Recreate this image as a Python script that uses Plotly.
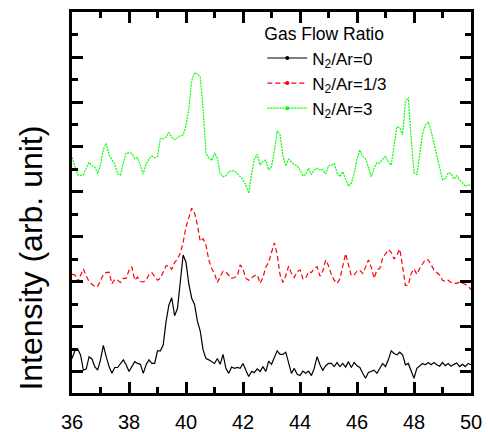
import numpy as np
import plotly.graph_objects as go

# 2-theta scan positions (degrees), 0.1 deg step
two_theta = np.round(np.linspace(36.0, 50.0, 141), 2)

# Stacked XRD intensities (arb. unit), one offset trace per gas flow ratio
ratio_0 = [
    30, 47, 51, 38, 4, 7, 34, 29, 12, 4, 27, 59, 34, 12, -3, 10, 10, 19, 27, 16,
    1, 12, 23, 19, 17, -3, 16, 27, 19, 19, 47, 47, 60, 112, 149, 165, 125, 141, 201, 260,
    244, 195, 164, 150, 113, 91, 49, 30, 27, 23, 19, 30, 17, 39, 8, -3, 11, 8, 10, 8,
    19, 4, -10, 1, -1, 7, 1, 12, 1, 24, 17, 32, 47, 39, 39, 44, 23, -3, 8, -5,
    -8, 2, -3, 2, -8, 8, 34, 16, 4, 14, 19, 19, 12, 21, 12, 19, 11, 23, 10, 21,
    14, 10, -3, -14, -1, 1, 4, -3, 7, 19, 12, 27, 47, 41, 38, 44, 38, 16, 19, 1,
    -14, 8, 14, 19, 16, 21, 16, 21, 16, 13, 21, 14, 19, 13, 17, 20, 12, 17, 12, 19,
    16,
]
ratio_1_3 = [
    217, 216, 201, 216, 229, 213, 201, 195, 190, 190, 204, 217, 221, 222, 196, 206, 204, 199, 208, 208,
    226, 234, 204, 211, 201, 200, 204, 216, 221, 212, 204, 208, 221, 236, 236, 228, 243, 251, 264, 288,
    322, 341, 364, 353, 327, 290, 296, 282, 249, 230, 219, 199, 213, 224, 222, 214, 208, 210, 213, 238,
    229, 208, 204, 209, 214, 216, 197, 210, 233, 244, 266, 287, 261, 216, 199, 214, 235, 219, 210, 223,
    227, 207, 208, 223, 221, 230, 234, 213, 224, 249, 236, 217, 204, 197, 207, 232, 263, 238, 214, 216,
    224, 226, 219, 233, 249, 233, 208, 227, 230, 253, 264, 272, 266, 251, 260, 273, 234, 192, 193, 219,
    229, 217, 230, 239, 250, 249, 238, 227, 221, 215, 204, 201, 204, 199, 197, 197, 200, 197, 195, 190,
    183,
]
ratio_3 = [
    477, 458, 438, 437, 438, 453, 466, 458, 455, 441, 460, 495, 508, 482, 473, 462, 440, 438, 464, 487,
    487, 486, 474, 476, 458, 440, 462, 473, 480, 476, 479, 519, 518, 522, 532, 522, 516, 521, 525, 527,
    547, 586, 647, 665, 663, 655, 586, 486, 475, 470, 487, 475, 441, 434, 436, 445, 447, 447, 440, 435,
    428, 415, 397, 441, 473, 484, 460, 468, 471, 449, 456, 492, 536, 527, 481, 458, 473, 467, 461, 458,
    449, 436, 439, 453, 439, 449, 453, 449, 450, 440, 458, 459, 463, 443, 434, 445, 430, 413, 419, 441,
    473, 493, 479, 474, 455, 434, 453, 465, 464, 473, 479, 467, 460, 508, 545, 543, 527, 601, 610, 519,
    443, 439, 481, 529, 549, 556, 536, 510, 482, 455, 427, 430, 443, 441, 429, 436, 427, 421, 412, 416,
    414,
]

series_names = ["N<sub>2</sub>/Ar=0", "N<sub>2</sub>/Ar=1/3", "N<sub>2</sub>/Ar=3"]
series_values = [ratio_0, ratio_1_3, ratio_3]
series_colors = ["#000000", "#FF0000", "#00FF00"]
series_dash = ["solid", "5px,3px", "2px,1px"]

x_tick_values = [36, 38, 40, 42, 44, 46, 48, 50]
x_tick_labels = ["36", "38", "40", "42", "44", "46", "48", "50"]

FONT = "Liberation Sans, Arial, Helvetica, sans-serif"

fig = go.Figure()

for name, vals, color, dash in zip(series_names, series_values, series_colors, series_dash):
    fig.add_trace(go.Scatter(
        x=two_theta, y=vals, mode="lines", name=name, showlegend=False,
        line=dict(color=color, width=1.2, dash=dash),
    ))

# Legend entries: line with a point symbol in the middle
for name, color, dash in zip(series_names, series_colors, series_dash):
    fig.add_trace(go.Scatter(
        x=[None], y=[None], mode="lines+markers", name=name,
        line=dict(color=color, width=1.2, dash=dash),
        marker=dict(color=color, size=4, symbol="circle"),
    ))

axis_common = dict(
    showline=True, linecolor="black", linewidth=3, mirror="ticks",
    ticks="inside", tickcolor="black", tickwidth=3, ticklen=11,
    showgrid=False, zeroline=False, automargin=False,
)

fig.update_xaxes(
    range=[36, 50], tickvals=x_tick_values, ticktext=x_tick_labels,
    tickfont=dict(family=FONT, size=20, color="black"),
    ticklabelstandoff=9,
    minor=dict(ticks="inside", ticklen=6, tickwidth=3, tickcolor="black", dtick=1, showgrid=False),
    **axis_common,
)
fig.update_yaxes(
    range=[-46.7, 800], dtick=100, tick0=0, showticklabels=False,
    minor=dict(ticks="inside", ticklen=6, tickwidth=3, tickcolor="black", dtick=50, showgrid=False),
    **axis_common,
)

fig.add_annotation(
    text="Intensity (arb. unit)", xref="paper", yref="paper",
    x=-0.105, y=0.353, xanchor="center", yanchor="middle",
    textangle=-90, showarrow=False,
    font=dict(family=FONT, size=32, color="black"),
)

fig.update_layout(
    width=488, height=432,
    margin=dict(l=72, r=17, t=12, b=39, autoexpand=False),
    paper_bgcolor="white", plot_bgcolor="white",
    font=dict(family=FONT, color="black"),
    legend=dict(
        x=0.477, y=0.985, xanchor="left", yanchor="top",
        bgcolor="rgba(0,0,0,0)", borderwidth=0,
        title=dict(text="Gas Flow Ratio", font=dict(family=FONT, size=17.5, color="black")),
        font=dict(family=FONT, size=17, color="black"),
        tracegroupgap=0, itemwidth=40,
    ),
)

fig.write_html("out.html")
